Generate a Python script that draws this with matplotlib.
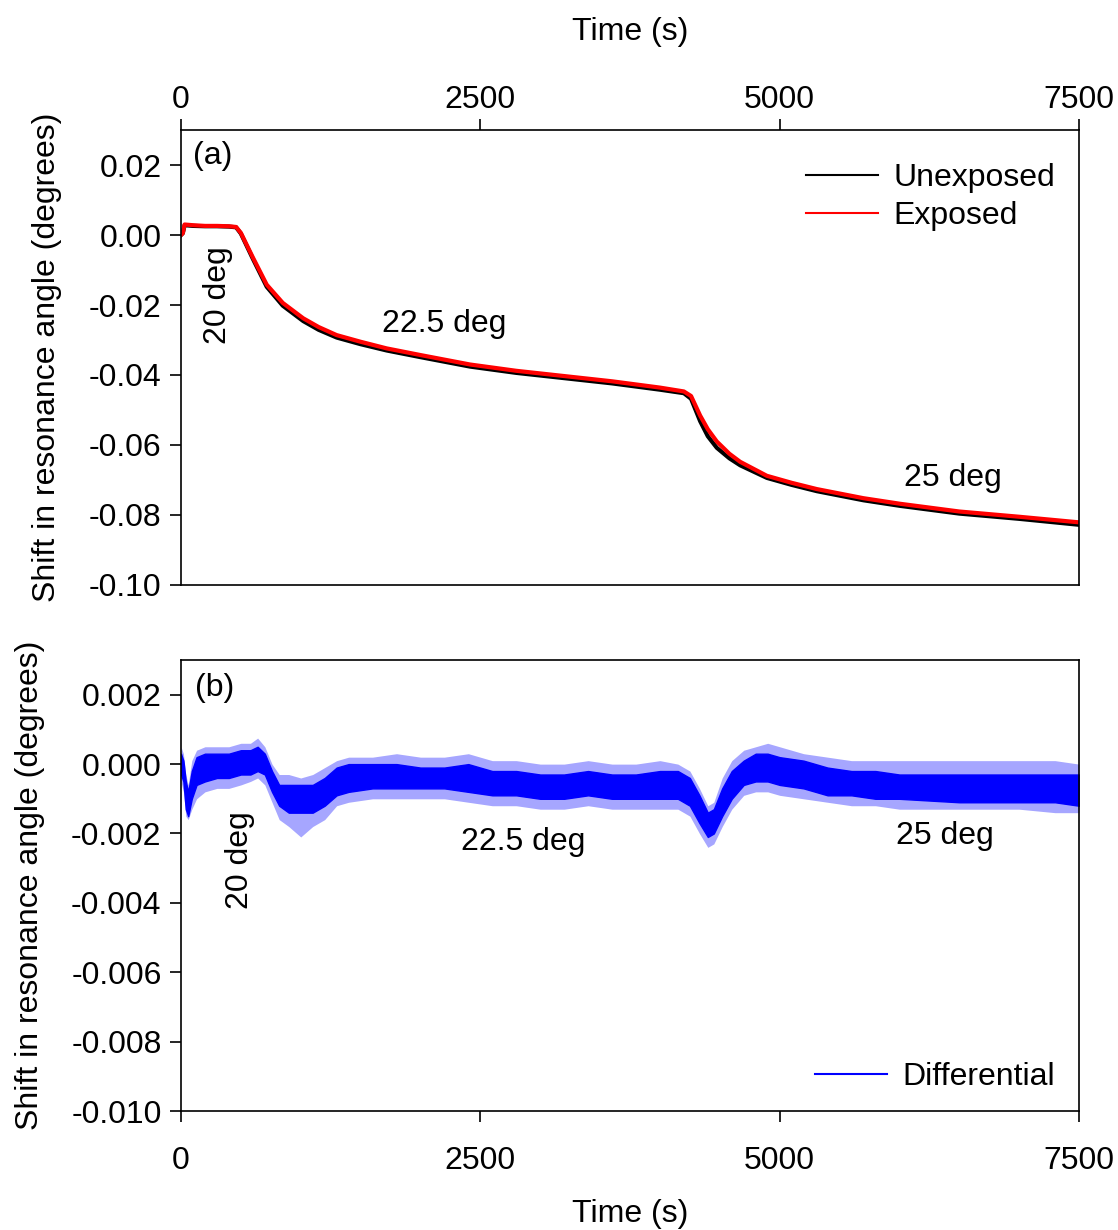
import matplotlib
matplotlib.use('Agg')
import matplotlib.pyplot as plt
from matplotlib.lines import Line2D
import numpy as np

plt.rcParams['font.family'] = ['Liberation Sans', 'DejaVu Sans']
plt.rcParams['font.size'] = 23
plt.rcParams['axes.unicode_minus'] = False

# panel (a): resonance angle shift
t_a = [0, 15, 30, 100, 200, 300, 400, 460, 500, 600, 716, 850, 1021, 1150, 1300, 1500, 1718,
       2000, 2414, 2800, 3200, 3600, 4000, 4200, 4260, 4336, 4400, 4475, 4580, 4670, 4893,
       5100, 5311, 5700, 6007, 6500, 7000, 7500]
exposed = [0.0, 0.0005, 0.0030, 0.0028, 0.0026, 0.0026, 0.0025, 0.0023, 0.0006, -0.0064, -0.0142,
           -0.0194, -0.0238, -0.0263, -0.0286, -0.0305, -0.0324, -0.0343, -0.0370, -0.0388,
           -0.0403, -0.0418, -0.0436, -0.0447, -0.0460, -0.0516, -0.0555, -0.0590, -0.0625,
           -0.0648, -0.0688, -0.0708, -0.0726, -0.0752, -0.0768, -0.0790, -0.0805, -0.0821]
unexposed = [0.0, 0.0005, 0.0028, 0.0026, 0.0025, 0.0025, 0.0024, 0.0022, 0.0004, -0.0068, -0.0148,
             -0.0202, -0.0246, -0.0271, -0.0293, -0.0312, -0.0330, -0.0349, -0.0376, -0.0394,
             -0.0409, -0.0424, -0.0442, -0.0452, -0.0468, -0.0532, -0.0575, -0.0608, -0.0638,
             -0.0658, -0.0694, -0.0714, -0.0732, -0.0758, -0.0774, -0.0796, -0.0811, -0.0828]

# panel (b): differential signal, dense band and spike envelope
t_b = [0, 20, 40, 60, 90, 130, 200, 300, 400, 500, 580, 640, 700, 760, 820, 900, 1000, 1100,
       1200, 1300, 1400, 1600, 1800, 2000, 2200, 2400, 2600, 2800, 3000, 3200, 3400, 3600, 3800,
       4000, 4150, 4250, 4330, 4400, 4450, 4520, 4600, 4700, 4800, 4900, 5000, 5200, 5400, 5600,
       5800, 6000, 6500, 7000, 7300, 7500]
diff_hi = [0.0003, 0.0001, -0.0005, -0.0008, -0.0002, 0.0002, 0.0003, 0.0003, 0.0003, 0.0004,
           0.0004, 0.0005, 0.0003, -0.0002, -0.0006, -0.0006, -0.0006, -0.0006, -0.0004, -0.0001,
           0.0000, 0.0000, 0.0000, -0.0001, -0.0001, 0.0000, -0.0002, -0.0002, -0.0003, -0.0003,
           -0.0002, -0.0003, -0.0003, -0.0002, -0.0002, -0.0004, -0.0009, -0.0014, -0.0013,
           -0.0007, -0.0002, 0.0001, 0.0003, 0.0003, 0.0002, 0.0001, -0.0001, -0.0002, -0.0002,
           -0.0003, -0.0003, -0.0003, -0.0003, -0.0003]
diff_lo = [-0.0003, -0.0005, -0.0013, -0.0015, -0.0010, -0.0006, -0.0005, -0.0004, -0.0004,
           -0.0003, -0.0003, -0.0002, -0.0003, -0.0008, -0.0012, -0.0014, -0.0014, -0.0014,
           -0.0012, -0.0009, -0.0008, -0.0007, -0.0007, -0.0007, -0.0007, -0.0008, -0.0009,
           -0.0009, -0.0010, -0.0010, -0.0009, -0.0010, -0.0010, -0.0010, -0.0010, -0.0012,
           -0.0017, -0.0021, -0.0020, -0.0015, -0.0010, -0.0006, -0.0005, -0.0005, -0.0006,
           -0.0007, -0.0009, -0.0009, -0.0010, -0.0010, -0.0011, -0.0011, -0.0011, -0.0012]
spike_hi = [0.0005, 0.0003, -0.0003, -0.0006, 0.0001, 0.0004, 0.0005, 0.0005, 0.0005, 0.0006,
            0.0006, 0.00075, 0.0005, 0.0000, -0.0003, -0.0003, -0.0004, -0.0003, -0.0001, 0.0001,
            0.0002, 0.0002, 0.0003, 0.0002, 0.0002, 0.0003, 0.0001, 0.0001, 0.0000, 0.0000,
            0.0001, 0.0000, 0.0000, 0.0001, 0.0000, -0.0002, -0.0007, -0.0012, -0.0011, -0.0004,
            0.0001, 0.0004, 0.0005, 0.0006, 0.0005, 0.0003, 0.0002, 0.0001, 0.0001, 0.0001,
            0.0001, 0.0001, 0.0001, 0.0000]
spike_lo = [-0.0005, -0.0008, -0.0015, -0.0016, -0.0013, -0.0010, -0.0008, -0.0007, -0.0007,
            -0.0006, -0.0005, -0.0004, -0.0006, -0.0011, -0.0016, -0.0018, -0.0021, -0.0018,
            -0.0016, -0.0012, -0.0011, -0.0010, -0.0010, -0.0010, -0.0010, -0.0011, -0.0012,
            -0.0012, -0.0013, -0.0013, -0.0012, -0.0013, -0.0013, -0.0013, -0.0013, -0.0015,
            -0.0020, -0.0024, -0.0023, -0.0018, -0.0013, -0.0009, -0.0008, -0.0008, -0.0009,
            -0.0010, -0.0011, -0.0012, -0.0012, -0.0013, -0.0013, -0.0013, -0.0014, -0.0014]

fig = plt.figure(figsize=(11.18, 12.3), dpi=100)
ax1 = fig.add_axes([0.1619, 0.5244, 0.8032, 0.3699])
ax2 = fig.add_axes([0.1619, 0.0967, 0.8032, 0.3667])

# --- panel (a)
ax1.plot(t_a, unexposed, color='black', lw=3)
ax1.plot(t_a, exposed, color='red', lw=3)
ax1.set_xlim(0, 7500)
ax1.set_ylim(-0.10, 0.03)
ax1.set_yticks([0.02, 0.00, -0.02, -0.04, -0.06, -0.08, -0.10])
ax1.set_yticklabels(['0.02', '0.00', '-0.02', '-0.04', '-0.06', '-0.08', '-0.10'])
ax1.set_xticks([0, 2500, 5000, 7500])
ax1.xaxis.tick_top()
ax1.xaxis.set_label_position('top')
ax1.set_xlabel('Time (s)', labelpad=32)
ax1.set_ylabel('Shift in resonance angle (degrees)', labelpad=19)
ax1.tick_params(direction='out', length=8, width=1.2, pad=6)
ax1.tick_params(axis='x', pad=3)
h1 = [Line2D([], [], color='black', lw=1.5), Line2D([], [], color='red', lw=1.5)]
ax1.legend(h1, ['Unexposed', 'Exposed'], loc='upper right', bbox_to_anchor=(0.988, 0.956),
           borderaxespad=0, frameon=False, handlelength=2.25, handletextpad=0.5,
           labelspacing=0.25)
ax1.text(100, 0.0227, '(a)', va='center', ha='left')
ax1.text(309, -0.0172, '20 deg', rotation=90, va='center', ha='center')
ax1.text(2197, -0.0253, '22.5 deg', va='center', ha='center')
ax1.text(6448, -0.0694, '25 deg', va='center', ha='center')

# --- panel (b)
ax2.fill_between(t_b, spike_lo, spike_hi, color='blue', alpha=0.35, lw=0)
ax2.fill_between(t_b, diff_lo, diff_hi, color='blue', lw=1)
ax2.set_xlim(0, 7500)
ax2.set_ylim(-0.010, 0.003)
ax2.set_yticks([0.002, 0.000, -0.002, -0.004, -0.006, -0.008, -0.010])
ax2.set_yticklabels(['0.002', '0.000', '-0.002', '-0.004', '-0.006', '-0.008', '-0.010'])
ax2.set_xticks([0, 2500, 5000, 7500])
ax2.set_xlabel('Time (s)', labelpad=17)
ax2.set_ylabel('Shift in resonance angle (degrees)', labelpad=19)
ax2.tick_params(direction='out', length=8, width=1.2, pad=6)
ax2.tick_params(axis='x', pad=17)
h2 = [Line2D([], [], color='blue', lw=1.5)]
ax2.legend(h2, ['Differential'], loc='lower right', bbox_to_anchor=(0.988, 0.013),
           borderaxespad=0, frameon=False, handlelength=2.25, handletextpad=0.5)
ax2.text(117, 0.00219, '(b)', va='center', ha='left')
ax2.text(493, -0.00277, '20 deg', rotation=90, va='center', ha='center')
ax2.text(2856, -0.00225, '22.5 deg', va='center', ha='center')
ax2.text(6381, -0.00207, '25 deg', va='center', ha='center')

for ax in (ax1, ax2):
    for s in ax.spines.values():
        s.set_linewidth(1.2)

fig.savefig('out.png', dpi=100)
